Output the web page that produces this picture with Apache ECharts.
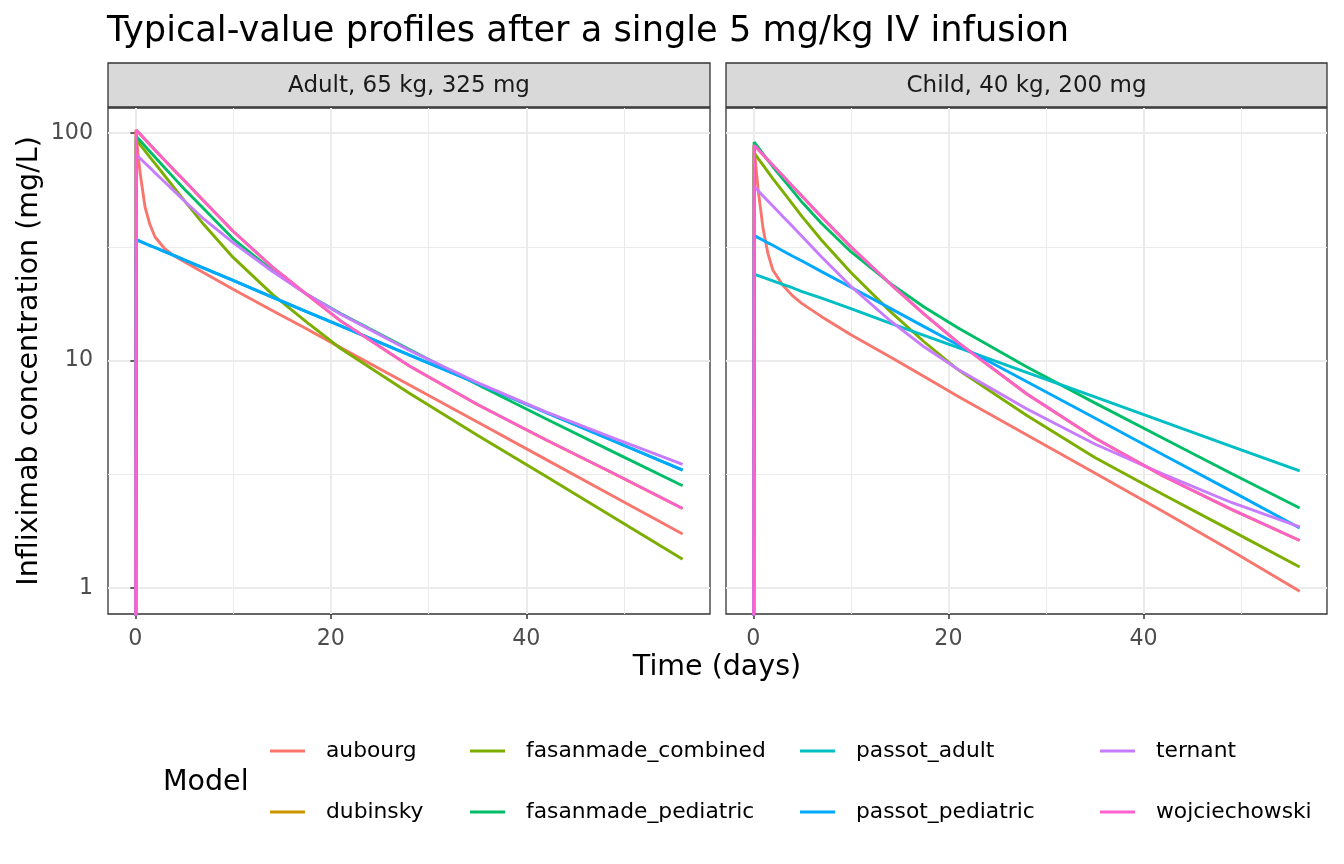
<!DOCTYPE html>
<html>
<head>
<meta charset="utf-8">
<script src="https://cdn.jsdelivr.net/npm/echarts@6.0.0/dist/echarts.min.js"></script>
<style>
  html, body { margin: 0; background: #fff; }
  #chart { width: 1344px; height: 864px; }
</style>
</head>
<body>
<div id="chart"></div>
<script>
// ---------------------------------------------------------------
// Data
// ---------------------------------------------------------------
const models = ['aubourg', 'dubinsky', 'fasanmade_combined', 'fasanmade_pediatric',
                'passot_adult', 'passot_pediatric', 'ternant', 'wojciechowski'];
const panels = ['Adult, 65 kg, 325 mg', 'Child, 40 kg, 200 mg'];

// time in days; t = 0 sits before the infusion (0.01 mg/L is below the axis and gets clipped)
const times = [0, 0.083, 0.25, 0.5, 1, 1.5, 2, 3, 4, 5, 7, 10, 14, 17.5, 21, 28, 35, 42, 49, 56];

// Adult panel, mg/L
const adultAubourg   = [0.01, 102, 82, 66, 47, 39.5, 35, 31, 28.8, 27.2, 24.3, 20.6, 16.6, 13.8, 11.4, 7.83, 5.37, 3.68, 2.52, 1.73];
const adultDubinsky  = [0.01, 103, 101.2, 98.8, 93.6, 88.9, 84.3, 76, 68.5, 61.8, 50.3, 37, 25.8, 19.6, 14.95, 9.49, 6.41, 4.49, 3.18, 2.24];
const adultFasComb   = [0.01, 93.5, 91.6, 88.7, 83.3, 78.2, 73.5, 64.9, 57.3, 50.6, 39.6, 28.4, 19.6, 14.8, 11.3, 7.2, 4.7, 3.1, 2.04, 1.34];
const adultFasPed    = [0.01, 96.7, 95, 92.4, 87.4, 82.8, 78.4, 70.4, 63.2, 56.8, 46.5, 34.3, 24.9, 19.6, 16.1, 11.2, 7.85, 5.55, 3.95, 2.82];
const adultPassotAd  = [0.01, 34.0, 33.7, 33.4, 32.7, 32.0, 31.4, 30.1, 28.9, 27.7, 25.5, 22.5, 19.0, 16.4, 14.2, 10.6, 7.93, 5.92, 4.42, 3.30];
const adultPassotPed = [0.01, 34.0, 33.7, 33.4, 32.7, 32.0, 31.4, 30.1, 28.9, 27.7, 25.5, 22.5, 19.0, 16.4, 14.2, 10.6, 7.93, 5.92, 4.42, 3.30];
const adultTernant   = [0.01, 80.3, 79.1, 77.3, 73.6, 70.3, 66.9, 60.9, 55.4, 50.4, 41.9, 33.0, 24.7, 19.6, 16.0, 11.1, 8.0, 5.95, 4.55, 3.5];
const adultWojc      = [0.01, 103, 101.2, 98.8, 93.6, 88.9, 84.3, 76, 68.5, 61.8, 50.3, 37, 25.8, 19.6, 14.95, 9.49, 6.41, 4.49, 3.18, 2.24];

// Child panel, mg/L
const childAubourg   = [0.01, 88, 72, 56, 38, 29.5, 25, 21.5, 19.3, 17.8, 15.6, 13.0, 10.4, 8.51, 6.96, 4.72, 3.21, 2.17, 1.46, 0.97];
const childDubinsky  = [0.01, 88.3, 86.8, 84.6, 80.3, 76.1, 72.1, 65, 58.5, 52.7, 42.8, 31.6, 21.8, 16.0, 12.0, 7.15, 4.57, 3.11, 2.22, 1.62];
const childFasComb   = [0.01, 81.7, 79.9, 77.2, 72.2, 67.5, 63.1, 55.5, 48.8, 42.9, 33.8, 24.4, 16.5, 12.1, 9.1, 5.75, 3.75, 2.58, 1.79, 1.24];
const childFasPed    = [0.01, 91.3, 89.3, 86.5, 81.0, 75.9, 71.1, 63.1, 56.0, 49.6, 40.0, 30.1, 21.9, 17.2, 13.9, 9.39, 6.52, 4.56, 3.19, 2.25];
const childPassotAd  = [0.01, 24.0, 23.9, 23.6, 23.2, 22.8, 22.4, 21.6, 20.9, 20.1, 18.8, 16.9, 14.6, 12.9, 11.4, 8.88, 6.92, 5.39, 4.20, 3.28];
const childPassotPed = [0.01, 35.5, 35.2, 34.7, 33.8, 32.9, 32.1, 30.4, 28.8, 27.4, 24.6, 21.0, 17.0, 14.1, 11.7, 8.10, 5.59, 3.86, 2.67, 1.84];
const childTernant   = [0.01, 58.3, 57.3, 55.8, 52.9, 50.3, 47.8, 43.1, 38.9, 35.1, 28.5, 21.2, 15.0, 11.5, 9.14, 6.14, 4.3, 3.17, 2.38, 1.86];
const childWojc      = [0.01, 88.3, 86.8, 84.6, 80.3, 76.1, 72.1, 65, 58.5, 52.7, 42.8, 31.6, 21.8, 16.0, 12.0, 7.15, 4.57, 3.11, 2.22, 1.62];

const xTicks = [0, 20, 40];
const xMinor = [10, 30, 50];
const yTicks = [1, 10, 100];
const yMinor = [3.162, 31.62];

const panelValues = [
    [adultAubourg, adultDubinsky, adultFasComb, adultFasPed, adultPassotAd, adultPassotPed, adultTernant, adultWojc],
    [childAubourg, childDubinsky, childFasComb, childFasPed, childPassotAd, childPassotPed, childTernant, childWojc]
];

// ggplot default hue palette for 8 levels
const colors = ['#F8766D', '#CD9600', '#7CAE00', '#00BE67', '#00BFC4', '#00A9FF', '#C77CFF', '#FF61CC'];

// ---------------------------------------------------------------
// Layout
// ---------------------------------------------------------------
const FONT = 'DejaVu Sans';
const panelLeft = [108, 726];
const panelWidth = [602, 601];
const panelTop = 108, panelHeight = 506;
const stripTop = 63, stripHeight = 44;

const grids = [], xAxes = [], yAxes = [], series = [], graphics = [];

panels.forEach(function (label, p) {
    grids.push({
        left: panelLeft[p], top: panelTop, width: panelWidth[p], height: panelHeight,
        show: true, borderColor: '#333333', borderWidth: 1.3, backgroundColor: 'transparent'
    });

    // major x axis
    xAxes.push({
        gridIndex: p, type: 'value', min: -2.8, max: 58.8,
        axisLine: { show: false },
        axisTick: { show: true, customValues: xTicks, length: 5, lineStyle: { color: '#333333', width: 1.5 } },
        axisLabel: { customValues: xTicks, color: '#4D4D4D', fontSize: 22.2, fontFamily: FONT, margin: 14 },
        splitLine: { show: true, lineStyle: { color: '#EBEBEB', width: 2 } }
    });
    // minor x grid lines
    xAxes.push({
        gridIndex: p, type: 'value', min: -2.8, max: 58.8, position: 'top',
        axisLine: { show: false },
        axisTick: { show: false, customValues: xMinor },
        axisLabel: { show: false, customValues: xMinor },
        splitLine: { show: true, lineStyle: { color: '#EBEBEB', width: 1 } }
    });

    // major y axis (log)
    yAxes.push({
        gridIndex: p, type: 'log', logBase: 10, min: 0.77, max: 128.8,
        axisLine: { show: false },
        axisTick: { show: p === 0, customValues: yTicks, length: 5, lineStyle: { color: '#333333', width: 1.5 } },
        axisLabel: { show: p === 0, customValues: yTicks, color: '#4D4D4D', fontSize: 22.2, fontFamily: FONT, margin: 15 },
        splitLine: { show: true, lineStyle: { color: '#EBEBEB', width: 2 } },
        name: p === 0 ? 'Infliximab concentration (mg/L)' : '',
        nameLocation: 'middle', nameGap: 64, nameRotate: 90,
        nameTextStyle: { color: '#000', fontSize: 28.5, fontFamily: FONT }
    });
    // minor y grid lines
    yAxes.push({
        gridIndex: p, type: 'log', logBase: 10, min: 0.77, max: 128.8, position: 'right',
        axisLine: { show: false },
        axisTick: { show: false, customValues: yMinor },
        axisLabel: { show: false, customValues: yMinor },
        splitLine: { show: true, lineStyle: { color: '#EBEBEB', width: 1 } }
    });

    models.forEach(function (name, m) {
        const vals = panelValues[p][m];
        series.push({
            type: 'line', name: name,
            xAxisIndex: p * 2, yAxisIndex: p * 2,
            data: times.map(function (t, k) { return [t, vals[k]]; }),
            showSymbol: false, symbol: 'none', clip: true,
            color: colors[m],
            lineStyle: { width: 2.9, color: colors[m] }
        });
    });

    // facet strip
    graphics.push({
        type: 'rect',
        shape: { x: panelLeft[p], y: stripTop, width: panelWidth[p], height: stripHeight },
        style: { fill: '#D9D9D9', stroke: '#333333', lineWidth: 1.3 }
    });
    graphics.push({
        type: 'text',
        x: panelLeft[p] + panelWidth[p] / 2, y: stripTop + stripHeight / 2 + 1,
        style: { text: label, fill: '#1A1A1A', font: '23px "DejaVu Sans"', align: 'center', verticalAlign: 'middle' }
    });
});

// x axis title
graphics.push({
    type: 'text', x: 717, y: 668,
    style: { text: 'Time (days)', fill: '#000', font: '28.5px "DejaVu Sans"', align: 'center', verticalAlign: 'middle' }
});
// legend title
graphics.push({
    type: 'text', x: 163, y: 783,
    style: { text: 'Model', fill: '#000', font: '28.5px "DejaVu Sans"', align: 'left', verticalAlign: 'middle' }
});

// legend: 4 columns x 2 rows, filled by column
const legendColX = [270, 470, 800, 1100];
const legendRowY = [751, 812];
const legends = models.map(function (name, i) {
    return {
        left: legendColX[Math.floor(i / 2)], top: legendRowY[i % 2] - 11,
        padding: 0, itemWidth: 35, itemHeight: 3, icon: 'rect',
        selectedMode: false,
        textStyle: { color: '#000', fontSize: 21.8, fontFamily: FONT, padding: [0, 0, 0, 16] },
        data: [name]
    };
});

const chart = echarts.init(document.getElementById('chart'));
chart.setOption({
    animation: false,
    backgroundColor: '#fff',
    title: {
        text: 'Typical-value profiles after a single 5 mg/kg IV infusion',
        left: 102, top: 9,
        textStyle: { color: '#000', fontSize: 35.2, fontWeight: 'normal', fontFamily: FONT }
    },
    grid: grids,
    xAxis: xAxes,
    yAxis: yAxes,
    legend: legends,
    series: series,
    graphic: graphics
});
</script>
</body>
</html>
